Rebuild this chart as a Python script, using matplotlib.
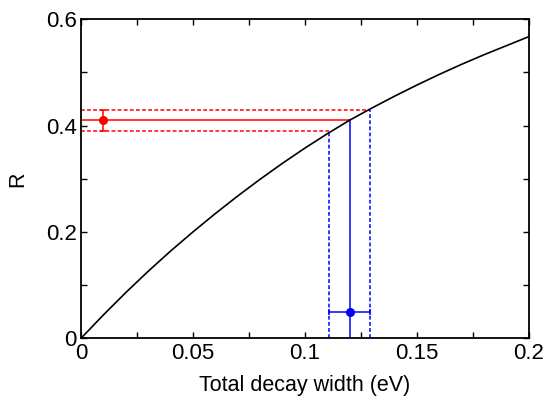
import matplotlib
matplotlib.use("Agg")
import matplotlib.pyplot as plt

# Curve values
curve_x = [0, 0.01, 0.02, 0.03, 0.04, 0.05, 0.06, 0.07, 0.08, 0.09, 0.10,
           0.11, 0.12, 0.13, 0.14, 0.15, 0.16, 0.17, 0.18, 0.19, 0.20]
curve_y = [0, 0.044, 0.086, 0.126, 0.164, 0.200, 0.2345, 0.2675, 0.299, 0.329, 0.3575,
           0.3845, 0.410, 0.433, 0.455, 0.476, 0.496, 0.515, 0.533, 0.550, 0.567]

# Measured R (red) and deduced width (blue)
r_point_x = 0.01
r_value = 0.41
r_low, r_high = 0.39, 0.43

w_point_y = 0.05
w_value = 0.12
w_low, w_high = 0.111, 0.129

x_ticks = [0, 0.025, 0.05, 0.075, 0.1, 0.125, 0.15, 0.175, 0.2]
x_labels = ["0", "", "0.05", "", "0.1", "", "0.15", "", "0.2"]
y_ticks = [0, 0.1, 0.2, 0.3, 0.4, 0.5, 0.6]
y_labels = ["0", "", "0.2", "", "0.4", "", "0.6"]

plt.rcParams['font.family'] = ['Liberation Sans', 'DejaVu Sans']

fig = plt.figure(figsize=(5.45, 3.99), dpi=100)
ax = fig.add_axes([0.1486, 0.152, 0.8214, 0.800])

dash = (0, (2.5, 1.5))

ax.plot(curve_x, curve_y, color='black', lw=1.2, zorder=3)

# red horizontal lines
ax.plot([0, w_value], [r_value, r_value], color='red', lw=1.1)
ax.plot([0, w_high], [r_high, r_high], color='red', lw=1.1, ls=dash)
ax.plot([0, w_low], [r_low, r_low], color='red', lw=1.1, ls=dash)
# blue vertical lines
ax.plot([w_value, w_value], [0, r_value], color='blue', lw=1.1)
ax.plot([w_high, w_high], [0, r_high], color='blue', lw=1.1, ls=dash)
ax.plot([w_low, w_low], [0, r_low], color='blue', lw=1.1, ls=dash)

ax.errorbar([r_point_x], [r_value], yerr=[[r_value - r_low], [r_high - r_value]],
            fmt='o', color='red', ms=5.5, capsize=2.5, elinewidth=1.1, capthick=1.1, zorder=4)
ax.errorbar([w_value], [w_point_y], xerr=[[w_value - w_low], [w_high - w_value]],
            fmt='o', color='blue', ms=5.5, capsize=2.5, elinewidth=1.1, capthick=1.1, zorder=4)

ax.set_xlim(0, 0.2)
ax.set_ylim(0, 0.6)
ax.set_xticks(x_ticks)
ax.set_xticklabels(x_labels)
ax.set_yticks(y_ticks)
ax.set_yticklabels(y_labels)
ax.tick_params(direction='in', top=True, right=True, length=4.5, width=1,
               labelsize=16, pad=3)
for s in ax.spines.values():
    s.set_linewidth(1.3)

ax.set_xlabel("Total decay width (eV)", fontsize=15.5, labelpad=8)
ax.set_ylabel("R", fontsize=15.5, labelpad=13)

fig.savefig("out.png", dpi=100)
